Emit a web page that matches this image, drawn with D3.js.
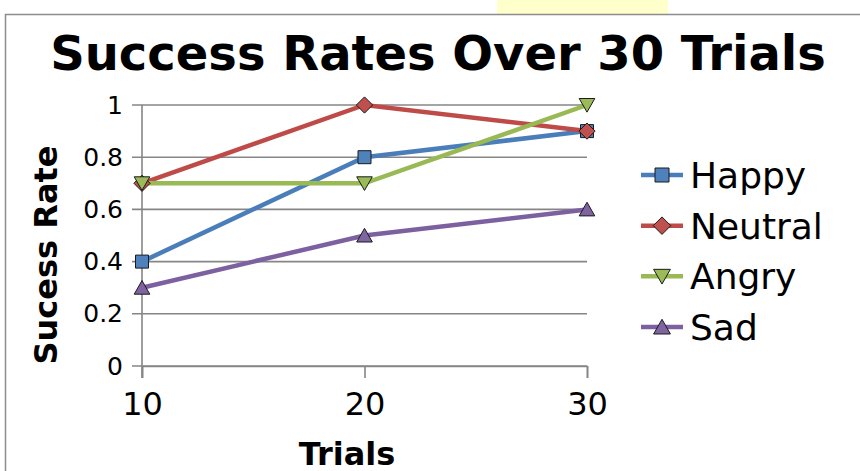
<!DOCTYPE html>
<html>
<head>
<meta charset="utf-8">
<script src="https://cdn.jsdelivr.net/npm/d3@7"></script>
<style>
  body { margin: 0; background: #fff; }
  text { font-family: "DejaVu Sans", sans-serif; fill: #000; }
</style>
</head>
<body>
<div id="chart"></div>
<script>
// data
var trials = [10, 20, 30];
var happy = [0.4, 0.8, 0.9];
var neutral = [0.7, 1.0, 0.9];
var angry = [0.7, 0.7, 1.0];
var sad = [0.3, 0.5, 0.6];
var seriesNames = ["Happy", "Neutral", "Angry", "Sad"];
var yTicks = [0, 0.2, 0.4, 0.6, 0.8, 1];

var svgWidth = 860;
var svgHeight = 471;

var series = [
  {name: "Happy", values: happy, line: "#4a7ebb", fill: "#4f81bd", shape: "square"},
  {name: "Neutral", values: neutral, line: "#be4b48", fill: "#c0504d", shape: "diamond"},
  {name: "Angry", values: angry, line: "#98b954", fill: "#9bbb59", shape: "down"},
  {name: "Sad", values: sad, line: "#7d60a0", fill: "#8064a2", shape: "up"}
];

var svg = d3.select("#chart")
  .append("svg")
  .attr("width", svgWidth)
  .attr("height", svgHeight);

// little yellow tab above the frame
svg.append("rect")
  .attr("x", 497).attr("y", 0)
  .attr("width", 171).attr("height", 14)
  .attr("fill", "#ffffcc");

// chart frame
svg.append("path")
  .attr("d", "M5.5,471 V14.5 H860")
  .attr("fill", "none")
  .attr("stroke", "#8c8c8c")
  .attr("stroke-width", 1.5);

// scales
var x = d3.scaleLinear().domain([10, 30]).range([142, 587]);
var y = d3.scaleLinear().domain([0, 1]).range([366, 105]);

// gridlines
svg.append("g")
  .selectAll("line")
  .data(yTicks)
  .enter()
  .append("line")
  .attr("x1", 132)
  .attr("x2", 587)
  .attr("y1", d => y(d))
  .attr("y2", d => y(d))
  .attr("stroke", "#868686")
  .attr("stroke-width", 1.6);

// y axis line
svg.append("line")
  .attr("x1", x(10)).attr("x2", x(10))
  .attr("y1", y(1)).attr("y2", y(0) + 12)
  .attr("stroke", "#868686").attr("stroke-width", 1.6);

// x axis
var xAxis = d3.axisBottom(x).tickValues(trials).tickSize(12).tickPadding(14);
var xg = svg.append("g")
  .attr("transform", `translate(0, ${y(0)})`)
  .call(xAxis);
xg.select(".domain").attr("stroke", "#868686").attr("stroke-width", 1.6);
xg.selectAll(".tick line").attr("stroke", "#868686").attr("stroke-width", 1.6);
xg.selectAll(".tick text")
  .style("font-family", "DejaVu Sans")
  .style("font-size", "32px")
  .attr("fill", "#000");

// y axis labels
var yAxis = d3.axisLeft(y).tickValues(yTicks).tickSize(0).tickPadding(19)
  .tickFormat(d => d3.format("")(d));
var yg = svg.append("g")
  .attr("transform", `translate(${x(10)}, 0)`)
  .call(yAxis);
yg.select(".domain").remove();
yg.selectAll(".tick text")
  .style("font-family", "DejaVu Sans")
  .style("font-size", "25px")
  .attr("fill", "#000");

// lines
var line = d3.line()
  .x((d, i) => x(trials[i]))
  .y(d => y(d));

svg.append("g")
  .selectAll("path")
  .data(series)
  .enter()
  .append("path")
  .attr("d", d => line(d.values))
  .attr("fill", "none")
  .attr("stroke", d => d.line)
  .attr("stroke-width", 4.5);

function marker(shape, s) {
  if (shape == "square") return `M${-s},${-s}H${s}V${s}H${-s}Z`;
  if (shape == "diamond") return `M0,${-s * 1.25}L${s * 1.25},0L0,${s * 1.25}L${-s * 1.25},0Z`;
  if (shape == "down") return `M${-s * 1.2},${-s}H${s * 1.2}L0,${s * 1.1}Z`;
  return `M0,${-s * 1.1}L${s * 1.2},${s}H${-s * 1.2}Z`;
}

// markers
series.forEach(function(s) {
  svg.append("g")
    .selectAll("path")
    .data(s.values)
    .enter()
    .append("path")
    .attr("d", marker(s.shape, 6.5))
    .attr("transform", (d, i) => `translate(${x(trials[i])}, ${y(d)})`)
    .attr("fill", s.fill)
    .attr("stroke", "#1a1a1a")
    .attr("stroke-width", 1);
});

// legend
var legendY = d3.scalePoint().domain(seriesNames).range([175, 327]);
var legend = svg.append("g")
  .selectAll("g")
  .data(series)
  .enter()
  .append("g")
  .attr("transform", d => `translate(641, ${legendY(d.name)})`);

legend.append("line")
  .attr("x1", 0).attr("x2", 42)
  .attr("stroke", d => d.line)
  .attr("stroke-width", 4.5);
legend.append("path")
  .attr("d", d => marker(d.shape, 7))
  .attr("transform", "translate(21, 0)")
  .attr("fill", d => d.fill)
  .attr("stroke", "#1a1a1a")
  .attr("stroke-width", 1);
legend.append("text")
  .attr("x", 49)
  .attr("dy", "0.36em")
  .attr("font-size", 36)
  .text(d => d.name);

// title
svg.append("text")
  .attr("x", 438)
  .attr("y", 70)
  .attr("text-anchor", "middle")
  .attr("font-size", 48)
  .attr("font-weight", "bold")
  .text("Success Rates Over 30 Trials");

// axis titles
svg.append("text")
  .attr("x", 347)
  .attr("y", 465)
  .attr("text-anchor", "middle")
  .attr("font-size", 32)
  .attr("font-weight", "bold")
  .text("Trials");

svg.append("text")
  .attr("transform", "translate(57, 255) rotate(-90)")
  .attr("text-anchor", "middle")
  .attr("font-size", 32)
  .attr("font-weight", "bold")
  .text("Sucess Rate");
</script>
</body>
</html>
